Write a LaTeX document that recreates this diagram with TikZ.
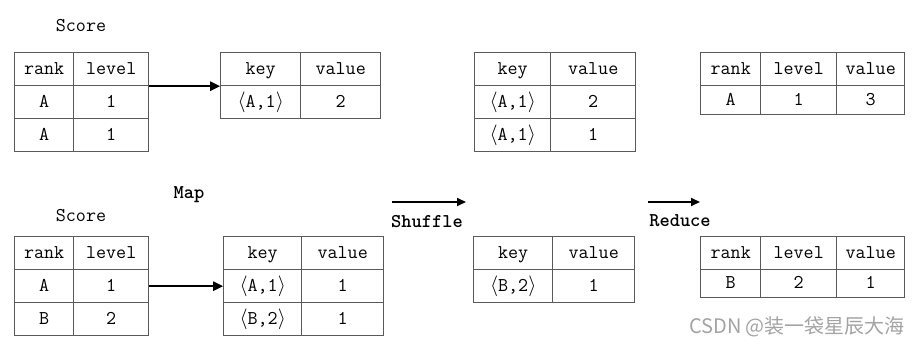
\documentclass[tikz,border=0pt]{standalone}
\usepackage{fontspec}
\newfontfamily\cjkfont{Noto Sans CJK SC}
\usetikzlibrary{arrows.meta,matrix}
\definecolor{linegray}{HTML}{5A5A5A}
\definecolor{markgray}{HTML}{A3A3A3}
\newcommand\keypair[1]{$\langle$#1$\rangle$}

\begin{document}
\begin{tikzpicture}[x=1pt,y=-1pt,
  cell/.style={draw=linegray,line width=1pt,minimum height=33pt,inner sep=0pt,text height=14pt,text depth=4pt,anchor=center,font=\ttfamily\fontsize{19.5}{22}\selectfont},
  tbl/.style={matrix of nodes,nodes={cell},inner sep=0pt,anchor=north west,column sep=-1pt,row sep=-1pt},
  twocol/.style 2 args={column 1/.style={nodes={minimum width=#1}},column 2/.style={nodes={minimum width=#2}}},
  threecol/.style n args={3}{column 1/.style={nodes={minimum width=#1}},column 2/.style={nodes={minimum width=#2}},column 3/.style={nodes={minimum width=#3}}},
  lowrow/.style={row 2/.style={nodes={minimum height=#1}}},
  lbl/.style={font=\ttfamily\fontsize{19.5}{22}\selectfont},
  bl/.style={font=\ttfamily\bfseries\fontsize{19.5}{22}\selectfont},
  ar/.style={-{Triangle[length=10pt,width=9pt]},line width=2.5pt},
  arr/.style={-{Triangle[length=9pt,width=8pt]},line width=2pt},
  wm/.style={font=\cjkfont\fontsize{20}{22}\selectfont,text=markgray}]
\useasboundingbox (0,0) rectangle (918,353);
% first score table
\node[lbl] (score1) at (81,26) {Score};
\matrix (s1) [tbl,twocol={59pt}{75pt}] at (14,52) {
  rank & level \\
  A & 1 \\
  A & 1 \\
};
\matrix (m1) [tbl,twocol={80pt}{80pt}] at (220,52) {
  key & value \\
  \keypair{A,1} & 2 \\
};
\matrix (g1) [tbl,twocol={76pt}{85pt}] at (474,52) {
  key & value \\
  \keypair{A,1} & 2 \\
  \keypair{A,1} & 1 \\
};
\matrix (r1) [tbl,threecol={60pt}{76pt}{68pt},lowrow=29pt] at (700,52) {
  rank & level & value \\
  A & 1 & 3 \\
};
% second score table
\node[bl] (map) at (189,195) {Map};
\node[lbl] (score2) at (81,216) {Score};
\matrix (s2) [tbl,twocol={59pt}{75pt}] at (14,236) {
  rank & level \\
  A & 1 \\
  B & 2 \\
};
\matrix (m2) [tbl,twocol={78pt}{82pt}] at (223,236) {
  key & value \\
  \keypair{A,1} & 1 \\
  \keypair{B,2} & 1 \\
};
\matrix (g2) [tbl,twocol={79pt}{82pt}] at (473,236) {
  key & value \\
  \keypair{B,2} & 1 \\
};
\matrix (r2) [tbl,threecol={60pt}{76pt}{68pt},lowrow=28pt] at (700,236) {
  rank & level & value \\
  B & 2 & 1 \\
};
% arrows
\draw[ar] (s1-1-2.south east) -- (s1-1-2.south east -| m1-2-1.west);
\draw[ar] (s2-2-2.east) -- (m2-2-1.west);
\node[bl] (shuf) at (427,222) {Shuffle};
\coordinate (shufA) at (392,202);
\coordinate (shufB) at (466,202);
\draw[arr] (shufA) -- (shufB);
\node[bl] (red) at (680,221) {Reduce};
\coordinate (redA) at (648,202);
\coordinate (redB) at (700,202);
\draw[arr] (redA) -- (redB);
\node[wm] (mark) at (797,327) {CSDN @装一袋星辰大海};
\end{tikzpicture}
\end{document}
